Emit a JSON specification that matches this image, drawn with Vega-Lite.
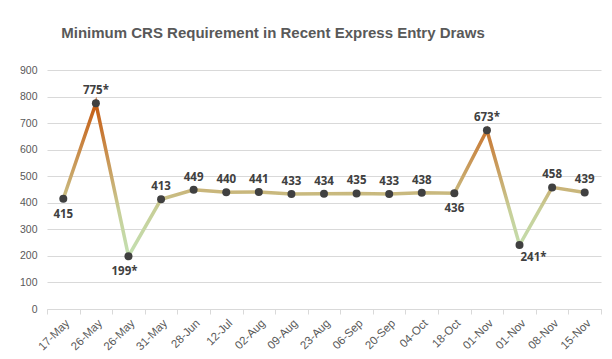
{
  "$schema": "https://vega.github.io/schema/vega-lite/v6.json",
  "width": 554,
  "height": 239,
  "autosize": {"type": "none"},
  "padding": {"left": 47, "top": 70, "right": 11, "bottom": 50},
  "background": "white",
  "title": {
    "text": "Minimum CRS Requirement in Recent Express Entry Draws",
    "font": "Liberation Sans",
    "fontSize": 15,
    "fontWeight": "bold",
    "color": "#595959",
    "anchor": "middle",
    "dx": -51,
    "offset": 24
  },
  "config": {"view": {"stroke": null}},
  "data": {
    "values": [
      {"i": 0, "draw": "17-May", "crs": 415, "label": "415"},
      {"i": 1, "draw": "26-May", "crs": 775, "label": "775*"},
      {"i": 2, "draw": "26-May\u200b", "crs": 199, "label": "199*"},
      {"i": 3, "draw": "31-May", "crs": 413, "label": "413"},
      {"i": 4, "draw": "28-Jun", "crs": 449, "label": "449"},
      {"i": 5, "draw": "12-Jul", "crs": 440, "label": "440"},
      {"i": 6, "draw": "02-Aug", "crs": 441, "label": "441"},
      {"i": 7, "draw": "09-Aug", "crs": 433, "label": "433"},
      {"i": 8, "draw": "23-Aug", "crs": 434, "label": "434"},
      {"i": 9, "draw": "06-Sep", "crs": 435, "label": "435"},
      {"i": 10, "draw": "20-Sep", "crs": 433, "label": "433"},
      {"i": 11, "draw": "04-Oct", "crs": 438, "label": "438"},
      {"i": 12, "draw": "18-Oct", "crs": 436, "label": "436"},
      {"i": 13, "draw": "01-Nov", "crs": 673, "label": "673*"},
      {"i": 14, "draw": "01-Nov\u200b", "crs": 241, "label": "241*"},
      {"i": 15, "draw": "08-Nov", "crs": 458, "label": "458"},
      {"i": 16, "draw": "15-Nov", "crs": 439, "label": "439"}
    ]
  },
  "encoding": {
    "x": {
      "field": "draw",
      "type": "ordinal",
      "sort": null,
      "scale": {"type": "band", "paddingInner": 0, "paddingOuter": 0},
      "axis": {
        "title": null,
        "labelAngle": -45,
        "labelColor": "#595959",
        "labelFontSize": 11.5,
        "labelFont": "Liberation Sans",
        "domainColor": "#d9d9d9",
        "tickColor": "#d9d9d9",
        "tickSize": 5,
        "tickBand": "extent",
        "labelPadding": 3,
        "grid": false
      }
    },
    "y": {
      "field": "crs",
      "type": "quantitative",
      "scale": {"domain": [0, 900], "nice": false},
      "axis": {
        "title": null,
        "values": [0, 100, 200, 300, 400, 500, 600, 700, 800, 900],
        "domain": false,
        "ticks": false,
        "labelColor": "#595959",
        "labelFontSize": 10.5,
        "labelFont": "Liberation Sans",
        "labelPadding": 10,
        "gridColor": "#d9d9d9",
        "gridWidth": 1
      }
    }
  },
  "layer": [
    {
      "mark": {
        "type": "line",
        "strokeWidth": 3.5,
        "color": {
          "gradient": "linear",
          "x1": 0, "y1": 0, "x2": 0, "y2": 1,
          "stops": [
            {"offset": 0, "color": "#c55a11"},
            {"offset": 0.3, "color": "#c98a48"},
            {"offset": 0.58, "color": "#c9b77c"},
            {"offset": 0.7, "color": "#c7cf98"},
            {"offset": 1, "color": "#c3e0b2"}
          ]
        }
      }
    },
    {
      "mark": {"type": "point", "filled": true, "opacity": 1, "color": "#404040", "size": 64}
    },
    {
      "transform": [{"filter": "indexof([0, 2, 12, 14], datum.i) < 0"}],
      "mark": {"type": "text", "font": "Noto Sans", "fontWeight": "bold", "fontSize": 11.5, "color": "#404040", "dy": -12},
      "encoding": {"text": {"field": "label"}}
    },
    {
      "transform": [{"filter": "datum.i == 0 || datum.i == 12"}],
      "mark": {"type": "text", "font": "Noto Sans", "fontWeight": "bold", "fontSize": 11.5, "color": "#404040", "dy": 16},
      "encoding": {"text": {"field": "label"}}
    },
    {
      "transform": [{"filter": "datum.i == 2"}],
      "mark": {"type": "text", "font": "Noto Sans", "fontWeight": "bold", "fontSize": 11.5, "color": "#404040", "dy": 16, "dx": -4},
      "encoding": {"text": {"field": "label"}}
    },
    {
      "transform": [{"filter": "datum.i == 14"}],
      "mark": {"type": "text", "font": "Noto Sans", "fontWeight": "bold", "fontSize": 11.5, "color": "#404040", "dy": 13, "dx": 14},
      "encoding": {"text": {"field": "label"}}
    }
  ]
}
